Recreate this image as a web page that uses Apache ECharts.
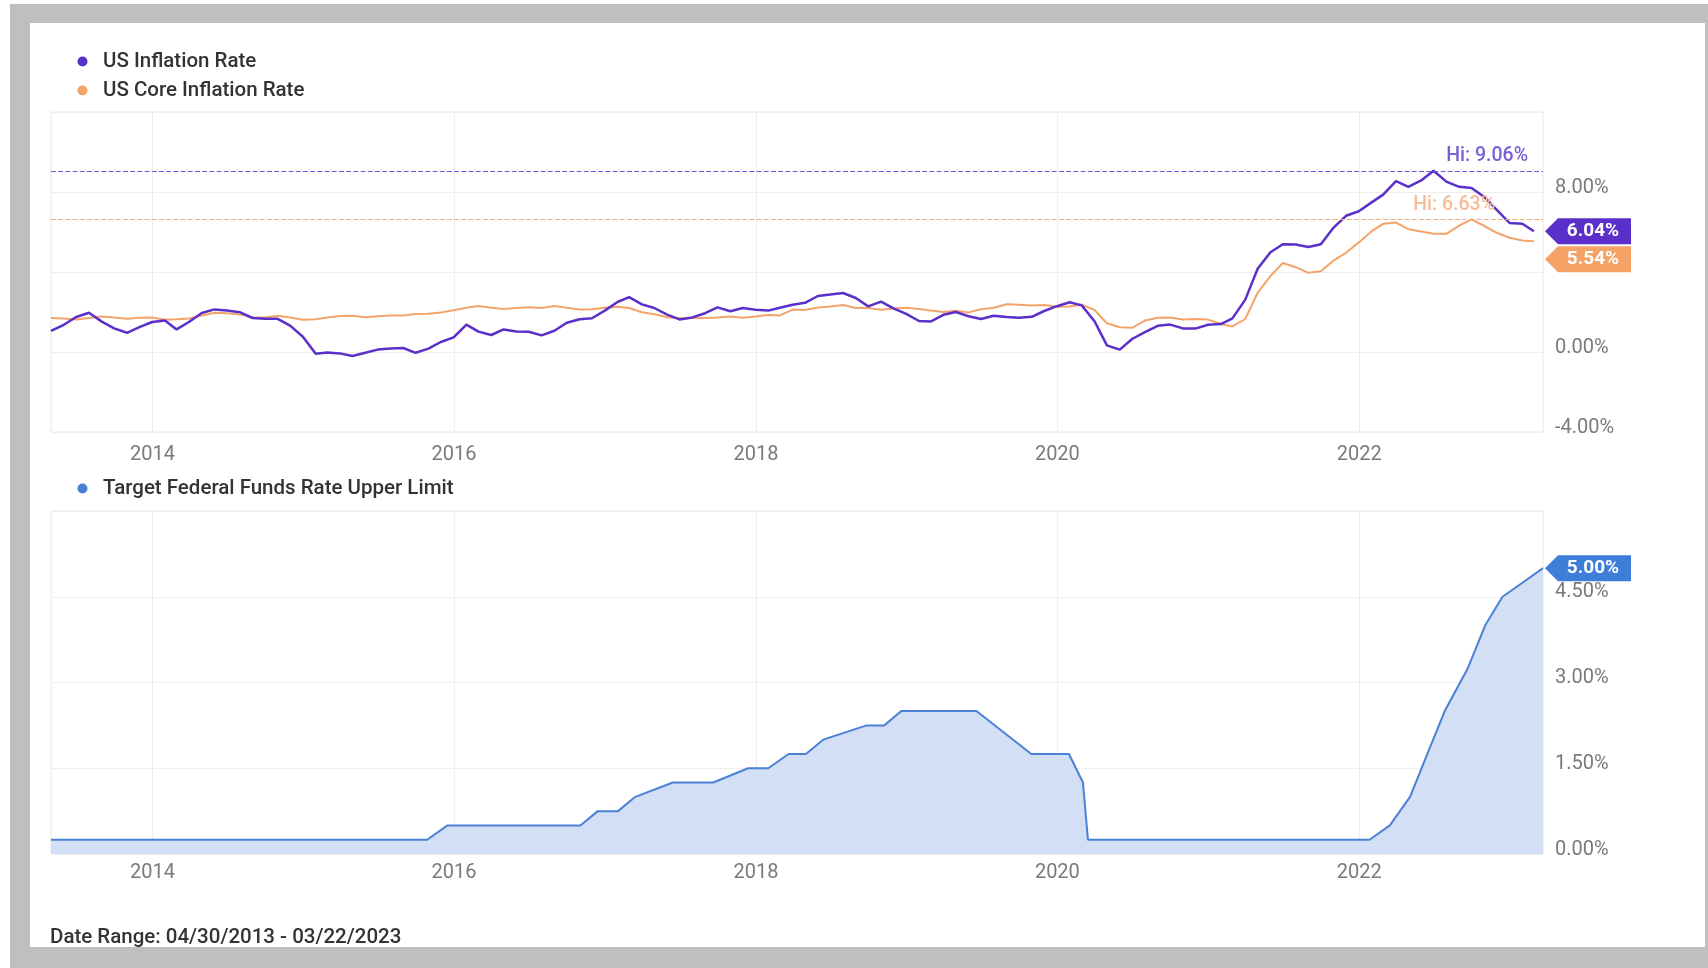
<!DOCTYPE html>
<html>
<head>
<meta charset="utf-8">
<script src="https://cdn.jsdelivr.net/npm/echarts@6/dist/echarts.min.js"></script>
<style>
  html, body { margin: 0; padding: 0; width: 1708px; height: 968px; background: #ffffff; overflow: hidden; }
  #frame { position: absolute; left: 10px; top: 4px; width: 1698px; height: 964px; background: #bfbfbf; }
  #card { position: absolute; left: 30px; top: 23px; width: 1675px; height: 924px; background: #ffffff; }
  #chart { position: absolute; left: 0; top: 0; width: 1708px; height: 968px; }
</style>
</head>
<body>
<div id="frame"></div>
<div id="card"></div>
<div id="chart"></div>
<script>
// ---------------- DATA ----------------
const rangeStart = '2013-04-30';
const rangeEnd = '2023-03-22';
const firstMonth = [2013, 4]; // monthly series start (April 2013), month-end dates
const yearTickLabels = [2014, 2016, 2018, 2020, 2022];

const cpiName = 'US Inflation Rate';
const coreName = 'US Core Inflation Rate';
const fedName = 'Target Federal Funds Rate Upper Limit';

const cpiValues = [
  1.06, 1.36, 1.75, 1.96, 1.52, 1.18, 0.96, 1.24, 1.50,
  1.58, 1.13, 1.51, 1.95, 2.13, 2.07, 1.99, 1.70, 1.66, 1.66, 1.32, 0.76,
  -0.09, -0.03, -0.07, -0.20, -0.04, 0.12, 0.17, 0.20, -0.04, 0.17, 0.50, 0.73,
  1.37, 1.02, 0.85, 1.13, 1.02, 1.01, 0.83, 1.06, 1.46, 1.64, 1.69, 2.07,
  2.50, 2.74, 2.38, 2.20, 1.87, 1.63, 1.73, 1.94, 2.23, 2.04, 2.20, 2.11,
  2.07, 2.21, 2.36, 2.46, 2.80, 2.87, 2.95, 2.70, 2.28, 2.52, 2.18, 1.91,
  1.55, 1.52, 1.86, 2.00, 1.79, 1.65, 1.81, 1.75, 1.71, 1.76, 2.05, 2.29,
  2.49, 2.33, 1.54, 0.33, 0.12, 0.65, 0.99, 1.31, 1.37, 1.18, 1.17, 1.36,
  1.40, 1.68, 2.62, 4.16, 4.99, 5.39, 5.37, 5.25, 5.39, 6.22, 6.81, 7.04,
  7.48, 7.87, 8.54, 8.26, 8.58, 9.06, 8.52, 8.26, 8.20, 7.75, 7.11, 6.45,
  6.41, 6.04
];

const coreValues = [
  1.70, 1.68, 1.62, 1.70, 1.78, 1.72, 1.66, 1.71, 1.72,
  1.61, 1.64, 1.68, 1.82, 1.96, 1.94, 1.88, 1.73, 1.73, 1.81, 1.72, 1.61,
  1.64, 1.73, 1.80, 1.81, 1.74, 1.79, 1.82, 1.83, 1.90, 1.91, 1.98, 2.09,
  2.21, 2.30, 2.21, 2.15, 2.20, 2.24, 2.20, 2.30, 2.21, 2.12, 2.14, 2.21,
  2.26, 2.20, 1.99, 1.89, 1.74, 1.69, 1.70, 1.70, 1.73, 1.77, 1.71, 1.77,
  1.85, 1.83, 2.12, 2.10, 2.22, 2.27, 2.35, 2.20, 2.20, 2.11, 2.18, 2.21,
  2.15, 2.08, 2.00, 2.06, 1.98, 2.14, 2.21, 2.39, 2.36, 2.33, 2.35, 2.26,
  2.27, 2.37, 2.10, 1.44, 1.24, 1.21, 1.57, 1.71, 1.73, 1.63, 1.65, 1.62,
  1.40, 1.28, 1.65, 2.96, 3.80, 4.45, 4.24, 3.96, 4.04, 4.58, 4.96, 5.48,
  6.04, 6.41, 6.47, 6.14, 6.02, 5.91, 5.91, 6.32, 6.63, 6.30, 5.96, 5.71,
  5.58, 5.54
];

const fedDates = [
  '2013-04-30', '2015-10-28', '2015-12-16', '2016-11-02', '2016-12-14',
  '2017-02-01', '2017-03-15', '2017-06-14', '2017-09-20', '2017-12-13',
  '2018-01-31', '2018-03-21', '2018-05-02', '2018-06-13', '2018-09-26',
  '2018-11-08', '2018-12-19', '2019-06-19', '2019-10-30', '2020-01-29',
  '2020-03-03', '2020-03-15', '2022-01-26', '2022-03-16', '2022-05-04',
  '2022-06-15', '2022-07-27', '2022-09-21', '2022-11-02', '2022-12-14',
  '2023-02-01', '2023-03-22'
];
const fedValues = [
  0.25, 0.25, 0.50, 0.50, 0.75,
  0.75, 1.00, 1.25, 1.25, 1.50,
  1.50, 1.75, 1.75, 2.00, 2.25,
  2.25, 2.50, 2.50, 1.75, 1.75,
  1.25, 0.25, 0.25, 0.50, 1.00,
  1.75, 2.50, 3.25, 4.00, 4.50,
  4.75, 5.00
];

const topTicks = [-4, 0, 4, 8, 12];
const bottomTicks = [0, 1.5, 3, 4.5, 6];

// ---------------- COLORS / STYLE ----------------
const C_CPI = '#5b2fc9';
const C_CORE = '#f4a46a';
const C_FED = '#4a80d6';
const FONT = 'Roboto, "Noto Sans", sans-serif';

// ---------------- BUILD ----------------
function pd(s) { const p = s.split('-').map(Number); return new Date(p[0], p[1] - 1, p[2]).getTime(); }
function monthEnds(n) {
  const out = [];
  for (let i = 0; i < n; i++) out.push(new Date(firstMonth[0], firstMonth[1] - 1 + i + 1, 0).getTime());
  return out;
}
const xMin = pd(rangeStart), xMax = pd(rangeEnd);
const cpiDates = monthEnds(cpiValues.length);
const cpiData = cpiValues.map((v, i) => [cpiDates[i], v]);
const coreData = coreValues.map((v, i) => [cpiDates[i], v]);
const fedData = fedValues.map((v, i) => [pd(fedDates[i]), v]);
const yearTicks = yearTickLabels.map(y => new Date(y, 0, 1).getTime());

const pct = v => v.toFixed(2) + '%';

function xAxisCfg(gridIndex, margin) {
  return {
    type: 'value', gridIndex, min: xMin, max: xMax,
    axisLine: { show: false }, axisTick: { show: false, customValues: yearTicks },
    splitLine: { show: true, lineStyle: { color: '#eeeeee', width: 1 } },
    axisLabel: {
      customValues: yearTicks, margin, color: '#7a7a7a', fontSize: 20, fontFamily: FONT,
      formatter: v => String(new Date(v).getFullYear())
    }
  };
}

function badgePath() { return 'path://M0,13 L13,0 L86,0 L86,26 L13,26 Z'; }

function badge(value, color, dy) {
  return {
    symbol: badgePath(), symbolSize: [86, 26], symbolKeepAspect: false,
    symbolOffset: [45, dy], silent: true, animation: false,
    label: { show: true, position: 'inside', offset: [5, 0], color: '#ffffff', fontSize: 19, fontWeight: 'bold', fontFamily: FONT, formatter: () => pct(value) },
    itemStyle: { color },
    data: [{ coord: [xMax, value], value }]
  };
}

function hiLine(maxV, lineColor, textColor, dist) {
  return {
    silent: true, symbol: ['none', 'none'], animation: false,
    lineStyle: { type: 'dashed', color: lineColor, width: 1.2 },
    label: { show: true, position: 'insideEndTop', distance: dist, color: textColor, fontSize: 19.5, fontFamily: FONT, fontWeight: 500, formatter: () => 'Hi: ' + pct(maxV) },
    data: [{ yAxis: maxV }]
  };
}

const cpiMax = Math.max(...cpiValues);
const coreMax = Math.max(...coreValues);

const yLabel = {
  margin: 12, color: '#7a7a7a', fontSize: 20, fontFamily: FONT,
  verticalAlign: 'bottom', lineHeight: 9
};

const chart = echarts.init(document.getElementById('chart'), null, { renderer: 'canvas' });
const option = {
  animation: false,
  backgroundColor: 'transparent',
  textStyle: { fontFamily: FONT },
  legend: [
    {
      data: [cpiName, coreName], orient: 'vertical', left: 72.5, top: 46,
      icon: 'circle', itemWidth: 31, itemHeight: 10, itemGap: 8,
      textStyle: { fontSize: 20.5, color: '#333333', fontWeight: 500, fontFamily: FONT },
      selectedMode: false
    },
    {
      data: [fedName], orient: 'vertical', left: 72.5, top: 473,
      icon: 'circle', itemWidth: 31, itemHeight: 10,
      textStyle: { fontSize: 20.5, color: '#333333', fontWeight: 500, fontFamily: FONT },
      selectedMode: false
    }
  ],
  grid: [
    { left: 51, right: 165, top: 112, height: 320, show: true, borderColor: '#e8e8e8', borderWidth: 1, backgroundColor: 'transparent' },
    { left: 51, right: 165, top: 511, height: 343, show: true, borderColor: '#e8e8e8', borderWidth: 1, backgroundColor: 'transparent' }
  ],
  xAxis: [xAxisCfg(0, 13), xAxisCfg(1, 9)],
  yAxis: [
    {
      type: 'value', gridIndex: 0, position: 'right', min: topTicks[0], max: topTicks[topTicks.length - 1], interval: 4,
      axisLine: { show: false }, axisTick: { show: false },
      splitLine: { lineStyle: { color: '#eeeeee' } },
      axisLabel: Object.assign({}, yLabel, { formatter: v => (v === 4 || v === 12) ? '' : pct(v) })
    },
    {
      type: 'value', gridIndex: 1, position: 'right', min: bottomTicks[0], max: bottomTicks[bottomTicks.length - 1], interval: 1.5,
      axisLine: { show: false }, axisTick: { show: false },
      splitLine: { lineStyle: { color: '#eeeeee' } },
      axisLabel: Object.assign({}, yLabel, { formatter: v => v === 6 ? '' : pct(v) })
    }
  ],
  series: [
    {
      name: coreName, type: 'line', xAxisIndex: 0, yAxisIndex: 0, data: coreData,
      showSymbol: false, symbol: 'circle', color: C_CORE, z: 2,
      lineStyle: { color: C_CORE, width: 2 },
      markLine: hiLine(coreMax, '#f0ad80', '#f6bd97', [48, 4]),
      markPoint: badge(coreValues[coreValues.length - 1], '#f4a266', 18)
    },
    {
      name: cpiName, type: 'line', xAxisIndex: 0, yAxisIndex: 0, data: cpiData,
      showSymbol: false, symbol: 'circle', color: C_CPI, z: 3,
      lineStyle: { color: C_CPI, width: 2.5 },
      markLine: hiLine(cpiMax, '#7457d8', '#7a60d4', [15, 5]),
      markPoint: badge(cpiValues[cpiValues.length - 1], C_CPI, 0)
    },
    {
      name: fedName, type: 'line', xAxisIndex: 1, yAxisIndex: 1, data: fedData,
      showSymbol: false, symbol: 'circle', color: C_FED,
      lineStyle: { color: C_FED, width: 2 },
      areaStyle: { color: '#d2dff5', opacity: 1, origin: 'start' },
      markPoint: badge(fedValues[fedValues.length - 1], '#3f7ed8', 0)
    }
  ],
  graphic: [
    { type: 'text', left: 50, top: 927, style: { text: 'Date Range: 04/30/2013 - 03/22/2023', fill: '#333333', font: '500 20.5px ' + FONT } }
  ]
};
chart.setOption(option);
</script>
</body>
</html>
